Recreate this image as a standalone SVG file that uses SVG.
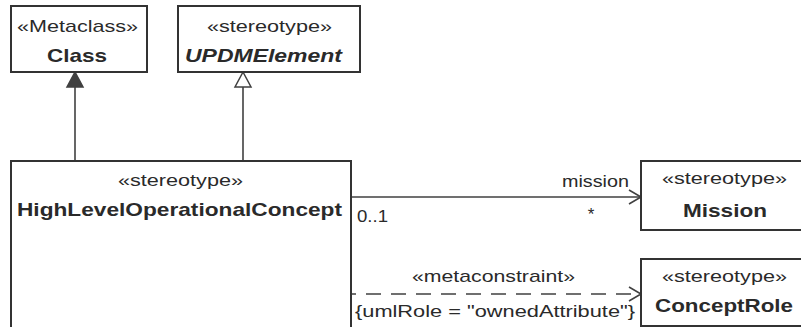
<svg xmlns="http://www.w3.org/2000/svg" width="801" height="327" viewBox="0 0 801 327">
<style>
  .box { fill: #ffffff; stroke: #333333; stroke-width: 2; }
  .line { fill: none; stroke: #404040; stroke-width: 1.6; }
  .dash { fill: none; stroke: #404040; stroke-width: 1.6; stroke-dasharray: 15 10; stroke-dashoffset: 10; }
  text { font-family: "Liberation Sans", Arial, sans-serif; fill: #2a2a2a; }
  .st { font-size: 17px; text-anchor: middle; }
  .nm { font-size: 19px; font-weight: bold; text-anchor: middle; }
  .it { font-style: italic; }
  .lbl { font-size: 17px; }
</style>
<rect width="801" height="327" fill="#ffffff"/>
<g id="connectors">
  <path class="line" d="M75,87 V161"/>
  <polygon points="75,72 67,87 83,87" fill="#404040" stroke="#404040" stroke-width="1.5" stroke-linejoin="miter"/>
  <path class="line" d="M243,87 V161"/>
  <polygon points="243,72 235,87 251,87" fill="#ffffff" stroke="#404040" stroke-width="1.5"/>
  <path class="line" d="M351,197 H640"/>
  <path class="line" d="M629,190 L641,197 L629,204"/>
  <text class="lbl" x="562" y="187" textLength="67" lengthAdjust="spacingAndGlyphs">mission</text>
  <text class="lbl" x="357" y="222" textLength="31" lengthAdjust="spacingAndGlyphs">0..1</text>
  <text class="lbl" x="591" y="220" text-anchor="middle">*</text>
  <path class="dash" d="M351,294 H640"/>
  <path class="line" d="M629,287 L641,294 L629,301"/>
  <text class="st" x="493.5" y="282" textLength="163" lengthAdjust="spacingAndGlyphs">«metaconstraint»</text>
  <text class="lbl" x="355" y="317" textLength="280" lengthAdjust="spacingAndGlyphs">{umlRole = "ownedAttribute"}</text>
</g>
<g id="node-class">
  <rect class="box" x="11" y="6" width="136" height="66"/>
  <text class="st" x="77.5" y="32" textLength="121" lengthAdjust="spacingAndGlyphs">«Metaclass»</text>
  <text class="nm" x="77" y="62" textLength="60" lengthAdjust="spacingAndGlyphs">Class</text>
</g>
<g id="node-updmelement">
  <rect class="box" x="178" y="6" width="182" height="66"/>
  <text class="st" x="269.5" y="32" textLength="125" lengthAdjust="spacingAndGlyphs">«stereotype»</text>
  <text class="nm it" x="263.5" y="62" textLength="157" lengthAdjust="spacingAndGlyphs">UPDMElement</text>
</g>
<g id="node-hloc">
  <rect class="box" x="11" y="161" width="340" height="200"/>
  <text class="st" x="180.5" y="186" textLength="125" lengthAdjust="spacingAndGlyphs">«stereotype»</text>
  <text class="nm" x="179.5" y="216" textLength="325" lengthAdjust="spacingAndGlyphs">HighLevelOperationalConcept</text>
</g>
<g id="node-mission">
  <rect class="box" x="641" y="161" width="170" height="69"/>
  <text class="st" x="724.5" y="184" textLength="125" lengthAdjust="spacingAndGlyphs">«stereotype»</text>
  <text class="nm" x="725" y="217" textLength="84" lengthAdjust="spacingAndGlyphs">Mission</text>
</g>
<g id="node-conceptrole">
  <rect class="box" x="641" y="259" width="170" height="67"/>
  <text class="st" x="724.5" y="282" textLength="125" lengthAdjust="spacingAndGlyphs">«stereotype»</text>
  <text class="nm" x="724" y="312" textLength="138" lengthAdjust="spacingAndGlyphs">ConceptRole</text>
</g>
</svg>
